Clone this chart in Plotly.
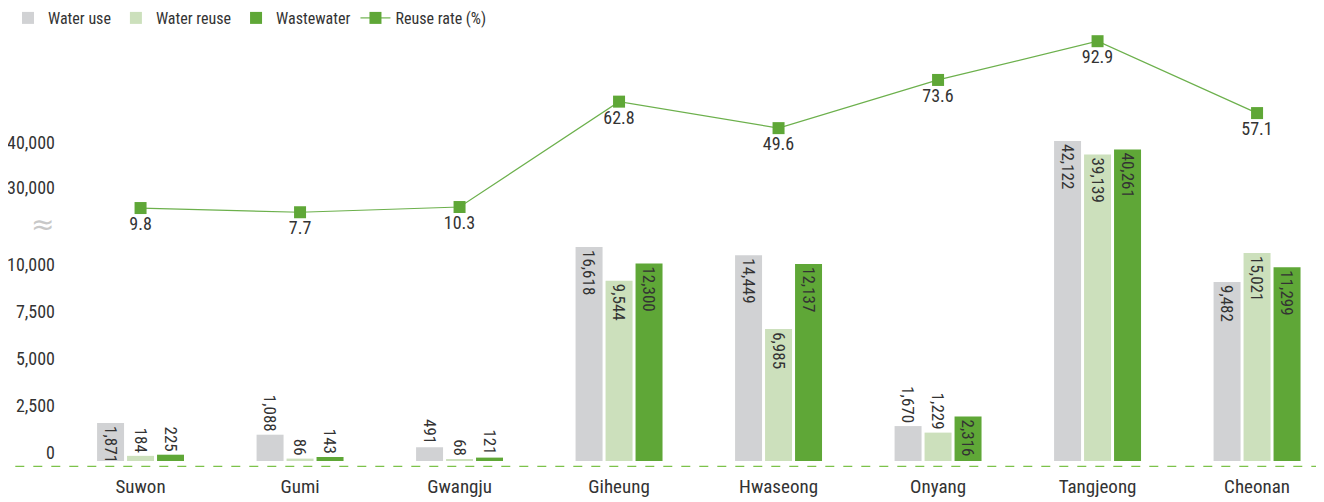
import numpy as np
import plotly.graph_objects as go

sites = ['Suwon', 'Gumi', 'Gwangju', 'Giheung', 'Hwaseong', 'Onyang', 'Tangjeong', 'Cheonan']
water_use = [1871, 1088, 491, 16618, 14449, 1670, 42122, 9482]
water_reuse = [184, 86, 68, 9544, 6985, 1229, 39139, 15021]
wastewater = [225, 143, 121, 12300, 12137, 2316, 40261, 11299]
reuse_rate = [9.8, 7.7, 10.3, 62.8, 49.6, 73.6, 92.9, 57.1]

tick_values = [0, 2500, 5000, 7500, 10000, 30000, 40000]

# broken axis: low end a little stretched, 10k-30k squeezed, 30k+ linear again
BREAK_IN = [0, 500, 1000, 2500, 10000, 30000, 40000, 50000]
BREAK_OUT = [0, 14, 25, 47.2, 188.8, 265, 310.3, 355.6]


def squeeze(v):
    return np.interp(v, BREAK_IN, BREAK_OUT)


colors = {
    'use': '#d1d2d4',
    'reuse': '#cce0bc',
    'waste': '#5fa737',
    'line': '#6cb04c',
}
FONT = 'Roboto Condensed, Roboto, sans-serif'
TXT = '#333333'

fig = go.Figure()


def add_bars(vals, name, color):
    fig.add_trace(go.Bar(
        x=sites, y=squeeze(vals), name=name,
        marker=dict(color=color, line=dict(width=0)),
        text=[f'{v:,}' for v in vals],
        textposition=['inside' if v >= 1800 else 'outside' for v in vals],
        insidetextanchor='end', textangle=90, constraintext='none',
        textfont=dict(family=FONT, size=17, color=TXT),
        cliponaxis=False,
    ))


add_bars(water_use, 'Water use', colors['use'])
add_bars(water_reuse, 'Water reuse', colors['reuse'])
add_bars(wastewater, 'Wastewater', colors['waste'])

fig.add_trace(go.Scatter(
    x=sites, y=reuse_rate, name='Reuse rate (%)', yaxis='y2',
    mode='lines+markers+text',
    line=dict(color=colors['line'], width=1.2),
    marker=dict(symbol='square', size=12, color=colors['waste']),
    text=[f'{v}' for v in reuse_rate], textposition='bottom center',
    textfont=dict(family=FONT, size=18, color=TXT),
    cliponaxis=False,
))

# dashed base line across the whole page
fig.add_shape(type='line', xref='paper', yref='paper', x0=-0.05, x1=1.02,
              y0=-5.3 / 421, y1=-5.3 / 421,
              line=dict(color='#7cc24a', width=1.2, dash='dash'))

# axis break mark
fig.add_annotation(xref='paper', yref='y', x=-0.0136, y=236.7, text='≈',
                   xanchor='center', yanchor='middle',
                   showarrow=False, font=dict(size=28, color='#c8c8c8', family='DejaVu Sans'))

# page body adds 8px, so margins are pulled in by that much
fig.update_layout(
    width=1324, height=502,
    margin=dict(l=52, r=18, t=32, b=49, autoexpand=False),
    paper_bgcolor='white', plot_bgcolor='white',
    barmode='group', bargap=0.436, bargroupgap=0.1,
    font=dict(family=FONT, color=TXT),
    showlegend=True,
    legend=dict(orientation='h', xref='container', yref='container',
                x=-0.010, y=1 - 10 / 502, xanchor='left', yanchor='middle',
                font=dict(size=16, color=TXT), itemwidth=30,
                traceorder='normal'),
    xaxis=dict(range=[-0.505, 7.357], showgrid=False, showline=False, zeroline=False,
               tickfont=dict(size=19, color=TXT), ticklabelstandoff=12),
    yaxis=dict(range=[0, 421], showgrid=False, showline=False, zeroline=False,
               tickvals=squeeze(tick_values), ticktext=[f'{v:,}' for v in tick_values],
               tickfont=dict(size=18, color=TXT), ticklabelshift=-8,
               ticklabelstandoff=4),
    yaxis2=dict(range=[-116.2, 93.5], overlaying='y', side='right', visible=False),
)

fig.write_html('out.html')
